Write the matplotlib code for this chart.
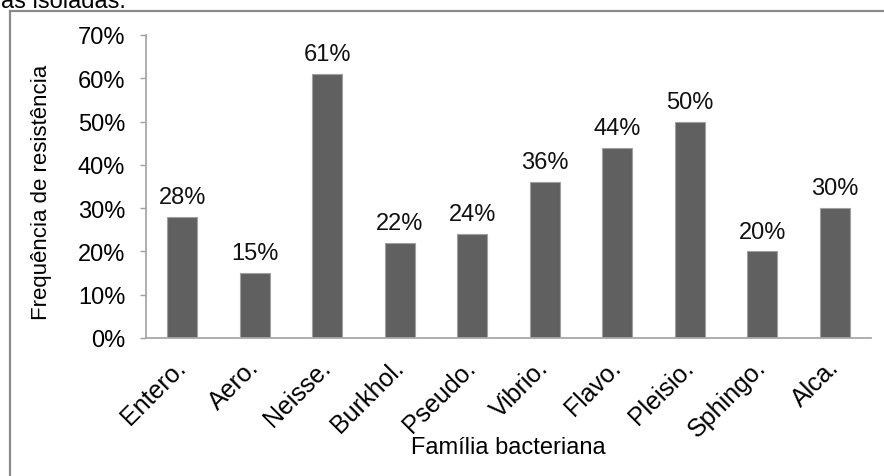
import matplotlib
matplotlib.use("Agg")
import matplotlib.pyplot as plt
from matplotlib.lines import Line2D

plt.rcParams['font.family'] = ['Liberation Sans', 'DejaVu Sans']

familias = ["Entero.", "Aero.", "Neisse.", "Burkhol.", "Pseudo.",
            "Vibrio.", "Flavo.", "Pleisio.", "Sphingo.", "Alca."]
frequencia = [28, 15, 61, 22, 24, 36, 44, 50, 20, 30]
yticks = [0, 10, 20, 30, 40, 50, 60, 70]

W, H = 884, 477
FS = 17
fig = plt.figure(figsize=(W / 100, H / 100), dpi=100)

# axes box in pixel coordinates
x0, x1 = 146, 871
y_top, y_bot = 36, 339
ax = fig.add_axes([x0 / W, 1 - y_bot / H, (x1 - x0) / W, (y_bot - y_top) / H])

xs = range(len(familias))
ax.bar(xs, frequencia, width=0.41, color="#606060",
       edgecolor="#a0a0a0", linewidth=0.8, zorder=2)
for x, v in zip(xs, frequencia):
    ax.annotate(f"{v}%", (x, v), xytext=(0, 10), textcoords="offset points",
                ha="center", va="baseline", fontsize=FS, color="#111111")

ax.set_xlim(-0.5, len(familias) - 0.5)
ax.set_ylim(0, 70)
ax.set_yticks(yticks)
ax.set_yticklabels([f"{t}%" for t in yticks], fontsize=FS)
ax.set_xticks(list(xs))
ax.set_xticklabels(familias, rotation=45, ha="right", rotation_mode="anchor",
                   fontsize=18)
for lbl in ax.get_xticklabels():
    lbl.set_va("center")
ax.tick_params(axis="y", length=4.5, color="#a0a0a0", width=1, pad=10.5)
ax.tick_params(axis="x", length=0, pad=18)

for s in ("top", "right"):
    ax.spines[s].set_visible(False)
for s in ("left", "bottom"):
    ax.spines[s].set_color("#a8a8a8")
    ax.spines[s].set_linewidth(1.3)

fig.text(42 / W, 1 - 192 / H, "Frequência de resistência", fontsize=16,
         rotation=90, ha="center", va="center")
fig.text(508 / W, 1 - 448 / H, "Família bacteriana", fontsize=FS,
         ha="center", va="center")

# outer chart frame (partly cut off)
fig.add_artist(Line2D([10 / W, 10 / W], [0, 1 - 12 / H], transform=fig.transFigure,
                      color="#8a8a8a", linewidth=1.6))
fig.add_artist(Line2D([10 / W, 1], [1 - 12 / H, 1 - 12 / H], transform=fig.transFigure,
                      color="#8a8a8a", linewidth=1.6))

# caption fragment above the chart
fig.text(1 / W, 1 - 7.5 / H, "as isoladas.", fontsize=FS, ha="left",
         va="baseline")

fig.savefig("out.png", dpi=100)
